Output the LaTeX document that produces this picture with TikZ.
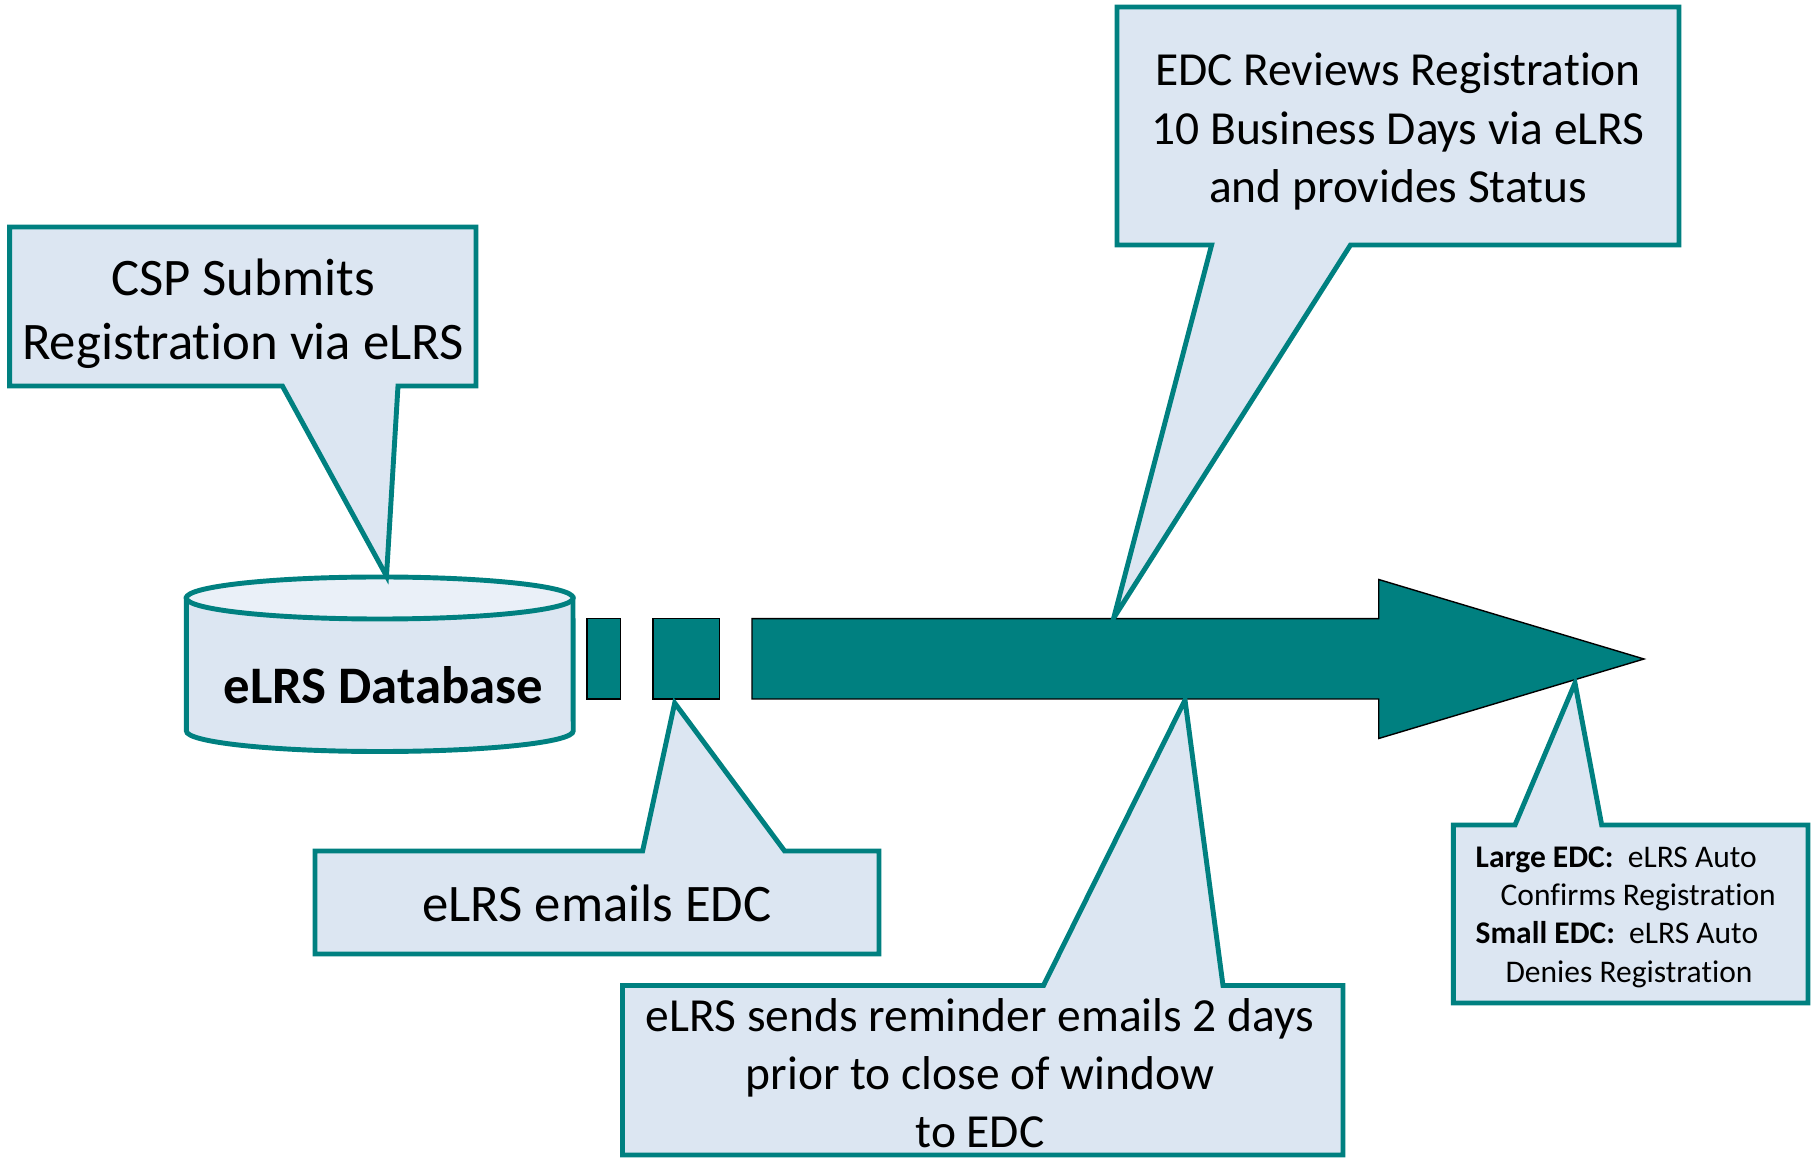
\documentclass[tikz,border=0pt]{standalone}
\usepackage{fontspec}
\setmainfont{Carlito}[Ligatures={NoCommon}]
\definecolor{tealA}{HTML}{008080}
\definecolor{lightA}{HTML}{DCE6F2}
\definecolor{lightB}{HTML}{EAF0F8}
\newcommand{\bigtxt}{\fontsize{15pt}{18.3pt}\selectfont}
\newcommand{\midtxt}{\fontsize{13.5pt}{16.5pt}\selectfont}
\newcommand{\smalltxt}{\fontsize{8.96pt}{10.9pt}\selectfont}
\begin{document}
\begin{tikzpicture}[x=0.01cm,y=-0.01cm,
  callout/.style={draw=tealA,fill=lightA,line width=1.4pt,line join=miter},
  bar/.style={draw=black,fill=tealA,line width=0.4pt},
  lbl/.style={inner sep=0pt,align=center,text=black}]
\useasboundingbox (0,0) rectangle (1814,1158);
% cylinder
\draw[draw=tealA,fill=lightA,line width=1.4pt] (186.4,598) -- (186.4,731)
  arc[start angle=180,end angle=360,x radius=1.933cm,y radius=0.205cm] -- (573,598) -- cycle;
\draw[draw=tealA,fill=lightB,line width=1.4pt] (379.7,598) ellipse [x radius=1.933cm,y radius=0.21cm];
\node[lbl,anchor=base,font=\bigtxt\bfseries] (db) at (383.6,704) {eLRS Database};
% timeline arrow
\draw[bar] (586.8,618.7) rectangle (620.3,699);
\draw[bar] (652.9,618.7) rectangle (719.4,699);
\draw[bar] (752,618.7) -- (1378.7,618.7) -- (1378.7,579.5) -- (1644,659) -- (1378.7,738.5) -- (1378.7,699) -- (752,699) -- cycle;
% callouts
\draw[callout] (9.6,227) -- (476,227) -- (476,386) -- (398,386) -- (386.5,576) -- (282.4,386) -- (9.6,386) -- cycle;
\node[lbl,font=\bigtxt] (csp) at (243,313.5) {CSP Submits\\Registration via eLRS};
\draw[callout] (1117,7) -- (1679,7) -- (1679,245) -- (1350.5,245) -- (1113.7,618) -- (1211.6,245) -- (1117,245) -- cycle;
\node[lbl,font=\midtxt] (rev) at (1398,131.5) {EDC Reviews Registration\\10 Business Days via eLRS\\and provides Status};
\draw[callout] (315,851) -- (642.6,851) -- (674.7,703) -- (784.6,851) -- (879,851) -- (879,954) -- (315,954) -- cycle;
\node[lbl,anchor=base,font=\bigtxt] (mail) at (597,922) {eLRS emails EDC};
\draw[callout] (622.5,985.5) -- (1043.5,985.5) -- (1185,700) -- (1223,985.5) -- (1343,985.5) -- (1343,1155) -- (622.5,1155) -- cycle;
\node[lbl,font=\midtxt] (rem) at (980,1073) {eLRS sends reminder emails 2 days\\prior to close of window\\to EDC};
\draw[callout] (1453.3,825) -- (1515,825) -- (1575,683) -- (1601.7,825) -- (1808,825) -- (1808,1003) -- (1453.3,1003) -- cycle;
\node[lbl,anchor=west,align=left,font=\smalltxt] (auto) at (1475,917) {\textbf{Large EDC:}\ \ eLRS Auto\\\hspace*{7.1pt}Confirms Registration\\\textbf{Small EDC:}\ \ eLRS Auto\\\hspace*{8.5pt}Denies Registration};
\end{tikzpicture}
\end{document}
